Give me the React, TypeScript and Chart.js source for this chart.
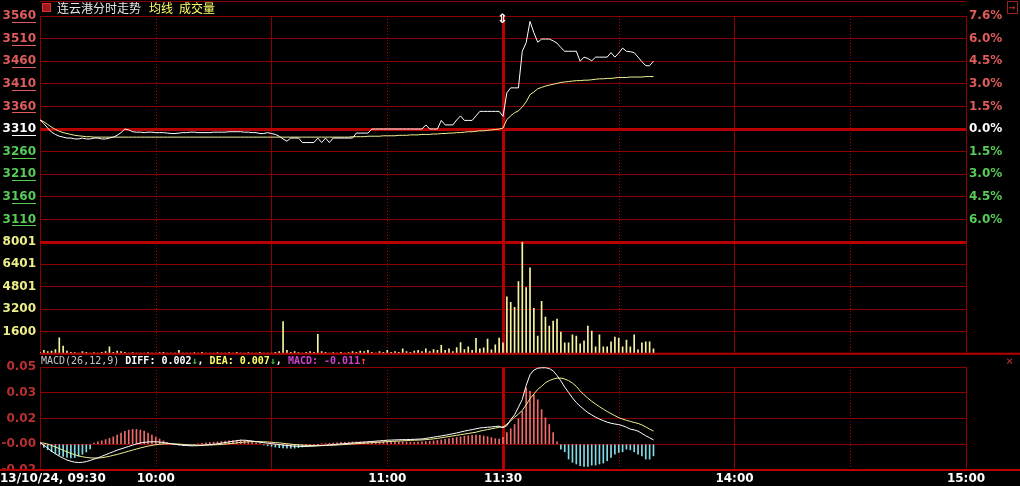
import { useEffect, useRef } from 'react';
import { Chart, registerables } from 'chart.js';

Chart.register(...registerables);

// ---------------- data ----------------
const titleName = '连云港分时走势';
const titleAvg = '均线';
const titleVol = '成交量';
const prevClose = 3310;
const priceMin = 3060;
const priceMax = 3560;
const priceTicks = [3560, 3510, 3460, 3410, 3360, 3310, 3260, 3210, 3160, 3110];
const volMax = 8001;
const volTickLabels = ['8001', '6401', '4801', '3200', '1600'];
const macdMax = 0.05;
const macdMin = -0.05 / 3;
const macdTickLabels = ['0.05', '0.03', '0.02', '-0.00', '-0.02'];
const sessionMinutes = 240;
const solidGridMinutes = [0, 60, 120, 180, 240];
const dottedGridMinutes = [30, 90, 150, 210];
const timeTickMinutes = [0, 30, 90, 120, 180, 240];
const timeTickLabels = ['13/10/24, 09:30', '10:00', '11:00', '11:30', '14:00', '15:00'];

// minute 0..120 (morning) and 121..159 (afternoon)
const priceAM = [
  3330, 3322, 3312, 3303, 3298, 3294, 3292, 3290, 3290, 3288,
  3288, 3290, 3288, 3288, 3290, 3290, 3288, 3288, 3290, 3292,
  3296, 3302, 3310, 3308, 3304, 3303, 3303, 3302, 3303, 3303,
  3302, 3302, 3302, 3301, 3300, 3300, 3301, 3302, 3302, 3303,
  3303, 3302, 3302, 3302, 3302, 3303, 3303, 3303, 3303, 3304,
  3304, 3304, 3304, 3303, 3303, 3302, 3302, 3300, 3300, 3302,
  3300, 3298, 3294, 3288, 3283, 3290, 3290, 3290, 3280, 3280,
  3280, 3280, 3290, 3280, 3290, 3280, 3290, 3290, 3290, 3290,
  3290, 3290, 3301, 3301, 3301, 3301, 3310, 3310, 3310, 3310,
  3310, 3310, 3310, 3310, 3310, 3310, 3310, 3310, 3310, 3310,
  3319, 3310, 3310, 3310, 3329, 3319, 3319, 3319, 3330, 3339,
  3329, 3329, 3329, 3339, 3349, 3349, 3349, 3349, 3349, 3349,
  3338,
];
const pricePM = [
  3390, 3401, 3401, 3401, 3482, 3501, 3548, 3523, 3502, 3509,
  3509, 3509, 3505, 3500, 3490, 3482, 3482, 3482, 3482, 3460,
  3469, 3466, 3461, 3469, 3469, 3469, 3469, 3479, 3469, 3478,
  3489, 3482, 3481, 3479, 3469, 3459, 3450, 3450, 3460,
];
const avgAM = [
  3330, 3326, 3320, 3314, 3309, 3305, 3302, 3300, 3298, 3296,
  3295, 3294, 3293, 3293, 3292, 3292, 3292, 3292, 3292, 3292,
  3292, 3292, 3292, 3292, 3292, 3292, 3292, 3292, 3292, 3292,
  3292, 3292, 3292, 3292, 3292, 3292, 3292, 3292, 3292, 3292,
  3292, 3292, 3292, 3292, 3292, 3292, 3292, 3292, 3292, 3292,
  3292, 3292, 3292, 3292, 3292, 3292, 3292, 3292, 3292, 3292,
  3292, 3292, 3292, 3292, 3292, 3292, 3292, 3292, 3292, 3292,
  3292, 3292, 3292, 3292, 3292, 3292, 3292, 3292, 3292, 3292,
  3292, 3293, 3293, 3293, 3293, 3294, 3294, 3294, 3294, 3295,
  3295, 3295, 3295, 3296, 3296, 3296, 3297, 3297, 3297, 3298,
  3298, 3298, 3299, 3299, 3300, 3300, 3301, 3301, 3302, 3302,
  3303, 3304, 3304, 3305, 3306, 3306, 3307, 3308, 3309, 3310,
  3312,
];
const avgPM = [
  3331, 3339, 3346, 3350, 3359, 3370, 3386, 3392, 3399, 3402,
  3405, 3407, 3409, 3411, 3413, 3414, 3415, 3416, 3417, 3417,
  3418, 3418, 3419, 3420, 3421, 3421, 3422, 3422, 3423, 3424,
  3424, 3424, 3425, 3425, 3425, 3425, 3426, 3426, 3426,
];
const volAM = [
  100, 250, 150, 200, 300, 1150, 550, 200, 100, 80,
  60, 150, 100, 60, 80, 60, 100, 150, 500, 100,
  200, 150, 100, 60, 80, 60, 50, 60, 80, 50,
  60, 80, 100, 60, 50, 60, 250, 60, 50, 60,
  80, 60, 100, 60, 50, 60, 80, 50, 60, 80,
  60, 100, 50, 60, 80, 60, 50, 100, 60, 50,
  60, 100, 150, 2300, 250, 100, 150, 80, 60, 100,
  150, 100, 1400, 150, 100, 60, 80, 60, 100, 60,
  80, 150, 100, 200, 150, 250, 100, 60, 150, 100,
  250, 100, 150, 100, 350, 150, 100, 200, 250, 150,
  350, 150, 300, 250, 600, 250, 350, 150, 450, 800,
  300, 500, 250, 1100, 350, 425, 1060, 280, 640, 1130,
  780,
];
const volPM = [
  4085, 3680, 3330, 5170, 7980, 4740, 6160, 3260, 1270, 3750,
  2620, 1980, 2340, 2480, 1560, 780, 780, 1350, 1270, 710,
  920, 1980, 1630, 500, 1350, 500, 500, 850, 1200, 1130,
  500, 990, 500, 1350, 280, 780, 850, 850, 350,
];
const diffAM = [
  0.001, -0.0005, -0.0025, -0.0045, -0.0062, -0.0077, -0.009, -0.0102, -0.011, -0.0116,
  -0.0118, -0.0117, -0.0112, -0.0105, -0.0096, -0.0088, -0.0078, -0.0068, -0.0058, -0.0048,
  -0.0038, -0.003, -0.0022, -0.0014, -0.0006, 0.0002, 0.0008, 0.0012, 0.0015, 0.0016,
  0.0016, 0.0014, 0.0011, 0.0007, 0.0003, 0, -0.0003, -0.0006, -0.0008, -0.001,
  -0.001, -0.0009, -0.0007, -0.0004, -0.0002, 0, 0.0003, 0.0007, 0.0011, 0.0015,
  0.0019, 0.0023, 0.0026, 0.0026, 0.0024, 0.0021, 0.0017, 0.0013, 0.001, 0.0007,
  0.0004, 0.0001, -0.0002, -0.0005, -0.0008, -0.001, -0.0012, -0.0013, -0.0014, -0.0014,
  -0.0013, -0.0012, -0.001, -0.0008, -0.0006, -0.0004, -0.0002, 0, 0.0002, 0.0004,
  0.0006, 0.0008, 0.001, 0.0012, 0.0014, 0.0016, 0.0018, 0.002, 0.0022, 0.0024,
  0.0026, 0.0027, 0.0028, 0.0029, 0.003, 0.003, 0.0031, 0.0032, 0.0033, 0.0034,
  0.0038, 0.0042, 0.0046, 0.005, 0.0054, 0.0058, 0.0063, 0.0068, 0.0073, 0.0079,
  0.0085, 0.009, 0.0095, 0.01, 0.0105, 0.0108, 0.011, 0.0112, 0.0115, 0.0117,
  0.0107,
];
const diffPM = [
  0.012, 0.016, 0.019, 0.024, 0.029, 0.038, 0.045, 0.048, 0.0492, 0.0495,
  0.0495, 0.049, 0.0475, 0.0445, 0.041, 0.037, 0.0335, 0.03, 0.027, 0.0246,
  0.0225, 0.0205, 0.019, 0.0175, 0.0163, 0.0153, 0.0143, 0.0136, 0.0131, 0.0127,
  0.012, 0.011, 0.0098, 0.0093, 0.0085, 0.007, 0.0055, 0.0042, 0.0028,
];
const deaAM = [
  0.001, 0.0007, 0.0001, -0.0008, -0.0018, -0.0028, -0.0039, -0.0049, -0.0059, -0.0068,
  -0.0075, -0.0081, -0.0085, -0.0088, -0.0089, -0.0089, -0.0087, -0.0083, -0.0078, -0.0072,
  -0.0066, -0.0059, -0.0052, -0.0045, -0.0038, -0.0031, -0.0024, -0.0018, -0.0012, -0.0007,
  -0.0003, 0, 0.0002, 0.0003, 0.0003, 0.0002, 0.0001, -0.0001, -0.0003, -0.0004,
  -0.0005, -0.0006, -0.0006, -0.0006, -0.0005, -0.0004, -0.0003, -0.0001, 0.0001, 0.0003,
  0.0006, 0.0009, 0.0012, 0.0014, 0.0016, 0.0017, 0.0017, 0.0017, 0.0016, 0.0015,
  0.0013, 0.0011, 0.0009, 0.0006, 0.0003, 0.0001, -0.0002, -0.0004, -0.0006, -0.0007,
  -0.0008, -0.0009, -0.0009, -0.0009, -0.0008, -0.0007, -0.0006, -0.0005, -0.0003, -0.0002,
  0, 0.0002, 0.0003, 0.0005, 0.0007, 0.0008, 0.001, 0.0012, 0.0013, 0.0015,
  0.0017, 0.0018, 0.002, 0.0021, 0.0022, 0.0024, 0.0025, 0.0026, 0.0027, 0.0028,
  0.003, 0.0032, 0.0035, 0.0038, 0.0042, 0.0046, 0.005, 0.0054, 0.0058, 0.0062,
  0.0066, 0.007, 0.0074, 0.0078, 0.0085, 0.009, 0.0095, 0.01, 0.0105, 0.011,
  0.0112,
];
const deaPM = [
  0.013, 0.0152, 0.0175, 0.0195, 0.022, 0.0255, 0.0295, 0.0325, 0.0355, 0.0375,
  0.0398, 0.0412, 0.0422, 0.0428, 0.0428, 0.0422, 0.0412, 0.0396, 0.0375, 0.0345,
  0.032, 0.0298, 0.0278, 0.026, 0.0243, 0.0227, 0.0212, 0.0198, 0.0185, 0.0172,
  0.0163, 0.0155, 0.0148, 0.0141, 0.0135, 0.0125, 0.0112, 0.0098, 0.0085,
];
const histAM = [
  -0.0005, -0.002, -0.0035, -0.0048, -0.006, -0.007, -0.0078, -0.0085, -0.0088, -0.0086,
  -0.0078, -0.0065, -0.005, -0.003, 0.0008, 0.0015, 0.0022, 0.003, 0.0038, 0.0048,
  0.006, 0.0072, 0.0084, 0.0092, 0.0096, 0.0096, 0.0092, 0.0085, 0.0072, 0.006,
  0.0046, 0.0034, 0.0022, 0.0012, 0.0005, -0.0003, -0.0006, -0.0008, -0.0008, -0.0006,
  -0.0003, 0.0003, 0.0006, 0.0009, 0.0012, 0.0014, 0.0016, 0.0018, 0.002, 0.0022,
  0.0024, 0.0026, 0.0028, 0.0026, 0.0022, 0.0016, 0.001, 0.0004, -0.0004, -0.001,
  -0.0014, -0.0018, -0.0022, -0.0024, -0.0025, -0.0026, -0.0025, -0.0022, -0.0018, -0.0014,
  -0.001, -0.0006, -0.0002, 0.0002, 0.0004, 0.0006, 0.0008, 0.001, 0.0012, 0.0013,
  0.0014, 0.0015, 0.0016, 0.0016, 0.0016, 0.0016, 0.0016, 0.0016, 0.0017, 0.0018,
  0.0018, 0.0018, 0.0018, 0.0017, 0.0016, 0.0015, 0.0014, 0.0013, 0.0014, 0.0016,
  0.0018, 0.002, 0.0022, 0.0025, 0.0028, 0.0032, 0.0036, 0.004, 0.0044, 0.0048,
  0.0052, 0.0055, 0.0058, 0.006, 0.0058, 0.0053, 0.0049, 0.0043, 0.0036, 0.0033,
  0.0045,
];
const histPM = [
  0.0075, 0.01, 0.0128, 0.0165, 0.0214, 0.0363, 0.0342, 0.032, 0.0288, 0.0224,
  0.0171, 0.0128, 0.0075, 0.0015, -0.0032, -0.0049, -0.0096, -0.0117, -0.0128, -0.0139,
  -0.0143, -0.0143, -0.0135, -0.0135, -0.0128, -0.0122, -0.0107, -0.0085, -0.0064, -0.0053,
  -0.0049, -0.0032, -0.0036, -0.0049, -0.0064, -0.0075, -0.0096, -0.0096, -0.0075,
];

// ---------------- style ----------------
const GRID = '#8a0000';
const THICK = '#b80000';
const UP = '#e05c5c';
const DOWN = '#58cc58';
const AXIS_FONT = { family: 'DejaVu Sans', size: 12, weight: 'bold' as const };
const priceLabelColor = (v: number) => (v > prevClose ? UP : v === prevClose ? '#ffffff' : DOWN);

const toXY = (arr: number[]) => arr.map((y, i) => ({ x: i, y }));

function xScale(): any {
  return {
    x: {
      type: 'linear',
      axis: 'x',
      min: 0,
      max: sessionMinutes,
      offset: false,
      position: 'bottom',
      ticks: { display: false },
      afterFit: (s: any) => { s.height = 0; },
      afterBuildTicks: (s: any) => { s.ticks = solidGridMinutes.map((v) => ({ value: v })); },
      grid: {
        offset: false,
        drawTicks: false,
        color: (c: any) => (c.tick && c.tick.value === 120 ? THICK : GRID),
        lineWidth: (c: any) => (c.tick && c.tick.value === 120 ? 3 : 1),
      },
      border: { display: false },
    },
  };
}

// dotted half-hour lines, positioned by the x scale
const dottedGridPlugin = {
  id: 'dottedGrid',
  beforeDatasetsDraw(chart: any) {
    const { ctx, chartArea, scales } = chart;
    ctx.save();
    ctx.strokeStyle = '#b00000';
    ctx.lineWidth = 1;
    ctx.setLineDash([1, 2]);
    dottedGridMinutes.forEach((m) => {
      const px = Math.round(scales.x.getPixelForValue(m)) + 0.5;
      ctx.beginPath();
      ctx.moveTo(px, chartArea.top);
      ctx.lineTo(px, chartArea.bottom);
      ctx.stroke();
    });
    ctx.restore();
  },
};

const topLinePlugin = {
  id: 'topLine',
  beforeDraw(chart: any) {
    const { ctx, chartArea } = chart;
    ctx.save();
    ctx.strokeStyle = GRID;
    ctx.lineWidth = 1;
    ctx.beginPath();
    ctx.moveTo(chartArea.left, 1.5);
    ctx.lineTo(chartArea.right, 1.5);
    ctx.stroke();
    ctx.restore();
  },
};

// underline marks beneath the price labels, as the terminal draws them
const priceUnderlinePlugin = {
  id: 'priceUnderline',
  afterDraw(chart: any) {
    const { ctx, scales } = chart;
    ctx.save();
    ctx.lineWidth = 1;
    priceTicks.forEach((v) => {
      const py = Math.round(scales.y.getPixelForValue(v)) + 6.5;
      ctx.strokeStyle = priceLabelColor(v);
      ctx.beginPath();
      ctx.moveTo(12, py);
      ctx.lineTo(36, py);
      ctx.stroke();
    });
    ctx.restore();
  },
};

const timeLabelPlugin = {
  id: 'timeLabels',
  afterDraw(chart: any) {
    const { ctx, chartArea, scales } = chart;
    ctx.save();
    ctx.fillStyle = '#000';
    ctx.fillRect(0, chartArea.bottom, chart.width, chart.height - chartArea.bottom);
    ctx.strokeStyle = THICK;
    ctx.lineWidth = 2;
    ctx.beginPath();
    ctx.moveTo(0, chartArea.bottom);
    ctx.lineTo(chart.width, chartArea.bottom);
    ctx.stroke();
    ctx.font = 'bold 12px "DejaVu Sans"';
    ctx.fillStyle = '#ffffff';
    ctx.textBaseline = 'middle';
    const y = chartArea.bottom + 9;
    timeTickMinutes.forEach((m, k) => {
      const px = scales.x.getPixelForValue(m);
      if (k === 0) {
        ctx.textAlign = 'left';
        ctx.fillText(timeTickLabels[k], 0, y);
      } else {
        ctx.textAlign = 'center';
        ctx.fillText(timeTickLabels[k], px, y);
      }
    });
    ctx.restore();
  },
};

const volBottomPlugin = {
  id: 'volBottom',
  afterDraw(chart: any) {
    const { ctx, chartArea } = chart;
    ctx.save();
    ctx.strokeStyle = THICK;
    ctx.lineWidth = 2;
    ctx.beginPath();
    ctx.moveTo(chartArea.left, chartArea.bottom);
    ctx.lineTo(chart.width, chartArea.bottom);
    ctx.stroke();
    ctx.restore();
  },
};

export default function App() {
  const priceRef = useRef<HTMLCanvasElement>(null);
  const volRef = useRef<HTMLCanvasElement>(null);
  const macdRef = useRef<HTMLCanvasElement>(null);

  useEffect(() => {
    const price = [...priceAM, ...pricePM];
    const avg = [...avgAM, ...avgPM];
    const vol = [...volAM, ...volPM];
    const diff = [...diffAM, ...diffPM];
    const dea = [...deaAM, ...deaPM];
    const hist = [...histAM, ...histPM];
    const common = {
      animation: false as const,
      responsive: false,
      maintainAspectRatio: false,
      events: [] as any[],
    };
    const noPlugins = { legend: { display: false }, tooltip: { enabled: false } };

    const priceChart = new Chart(priceRef.current!, {
      type: 'line',
      data: {
        datasets: [
          { data: toXY(price), borderColor: '#ffffff', borderWidth: 1, pointRadius: 0, xAxisID: 'x', yAxisID: 'y', order: 0 },
          { data: toXY(avg), borderColor: '#f0f090', borderWidth: 1, pointRadius: 0, xAxisID: 'x', yAxisID: 'y', order: 1 },
        ],
      },
      options: {
        ...common,
        layout: { padding: { top: 16, bottom: 18, left: 0, right: 0 } },
        plugins: noPlugins,
        scales: {
          ...xScale(),
          y: {
            position: 'left',
            min: priceMin,
            max: priceMax,
            afterBuildTicks: (s: any) => { s.ticks = [...priceTicks, priceMin].map((v) => ({ value: v })); },
            afterFit: (s: any) => { s.width = 40; },
            ticks: {
              font: AXIS_FONT,
              padding: 4,
              color: (c: any) => priceLabelColor(c.tick.value),
              callback: (v: any) => (v === priceMin ? '' : String(v)),
            },
            grid: {
              drawTicks: false,
              color: (c: any) => (c.tick && (c.tick.value === prevClose || c.tick.value === priceMin) ? THICK : GRID),
              lineWidth: (c: any) => (c.tick && (c.tick.value === prevClose || c.tick.value === priceMin) ? 3 : 1),
            },
            border: { display: false },
          },
          y2: {
            position: 'right',
            min: priceMin,
            max: priceMax,
            afterBuildTicks: (s: any) => { s.ticks = priceTicks.map((v) => ({ value: v })); },
            afterFit: (s: any) => { s.width = 54; },
            ticks: {
              font: AXIS_FONT,
              padding: 3,
              color: (c: any) => priceLabelColor(c.tick.value),
              callback: (v: any) => Math.abs(((v - prevClose) / prevClose) * 100).toFixed(1) + '%',
            },
            grid: { display: false, drawTicks: false },
            border: { display: true, color: GRID, width: 1 },
          },
        },
      } as any,
      plugins: [dottedGridPlugin, topLinePlugin, priceUnderlinePlugin],
    });

    const volTickValues = [0, 1, 2, 3, 4, 5].map((k) => (volMax * (5 - k)) / 5);
    const volChart = new Chart(volRef.current!, {
      type: 'bar',
      data: {
        datasets: [
          { data: toXY(vol), backgroundColor: '#f6f6a0', borderWidth: 0, barThickness: 1, xAxisID: 'x', yAxisID: 'y' },
        ],
      },
      options: {
        ...common,
        layout: { padding: { top: 12, bottom: 10, left: 0, right: 54 } },
        plugins: noPlugins,
        scales: {
          ...xScale(),
          y: {
            position: 'left',
            min: 0,
            max: volMax,
            afterBuildTicks: (s: any) => { s.ticks = volTickValues.map((v) => ({ value: v })); },
            afterFit: (s: any) => { s.width = 40; },
            ticks: {
              font: AXIS_FONT,
              padding: 4,
              color: '#eeee88',
              callback: (v: any) => {
                const k = volTickValues.indexOf(v);
                return k >= 0 && k < volTickLabels.length ? volTickLabels[k] : '';
              },
            },
            grid: {
              drawTicks: false,
              color: (c: any) => (c.tick && c.tick.value === volMax ? THICK : GRID),
              lineWidth: (c: any) => (c.tick && c.tick.value === volMax ? 3 : 1),
            },
            border: { display: false },
          },
        },
      } as any,
      plugins: [dottedGridPlugin, volBottomPlugin],
    });

    const macdTickValues = [0, 1, 2, 3, 4].map((k) => macdMax - (k * (macdMax - macdMin)) / 4);
    const macdChart = new Chart(macdRef.current!, {
      type: 'bar',
      data: {
        datasets: [
          { type: 'line', data: toXY(diff), borderColor: '#ffffff', borderWidth: 1, pointRadius: 0, xAxisID: 'x', yAxisID: 'y', order: 0 } as any,
          { type: 'line', data: toXY(dea), borderColor: '#f0f090', borderWidth: 1, pointRadius: 0, xAxisID: 'x', yAxisID: 'y', order: 1 } as any,
          {
            type: 'bar',
            data: toXY(hist),
            backgroundColor: (c: any) => (c.raw && c.raw.y >= 0 ? '#f06a6a' : '#80dde6'),
            borderWidth: 0,
            barThickness: 1,
            xAxisID: 'x',
            yAxisID: 'y',
            order: 2,
          },
        ],
      },
      options: {
        ...common,
        layout: { padding: { top: 12, bottom: 16, left: 0, right: 54 } },
        plugins: noPlugins,
        scales: {
          ...xScale(),
          y: {
            position: 'left',
            min: macdMin,
            max: macdMax,
            afterBuildTicks: (s: any) => { s.ticks = macdTickValues.map((v) => ({ value: v })); },
            afterFit: (s: any) => { s.width = 40; },
            ticks: {
              font: AXIS_FONT,
              padding: 4,
              color: '#b83030',
              callback: (v: any) => {
                const k = macdTickValues.indexOf(v);
                return k >= 0 ? macdTickLabels[k] : '';
              },
            },
            grid: { drawTicks: false, color: GRID, lineWidth: 1 },
            border: { display: false },
          },
        },
      } as any,
      plugins: [dottedGridPlugin, timeLabelPlugin],
    });

    return () => {
      priceChart.destroy();
      volChart.destroy();
      macdChart.destroy();
    };
  }, []);

  const abs = (left: number, top: number, extra: any = {}) => ({
    position: 'absolute' as const,
    left,
    top,
    whiteSpace: 'nowrap' as const,
    ...extra,
  });
  const cjk = { fontFamily: '"Noto Sans CJK SC", sans-serif', fontSize: 12, lineHeight: '16px' };
  const mono = { fontFamily: '"DejaVu Sans Mono", monospace', fontSize: 10, lineHeight: '12px' };

  return (
    <div style={{ position: 'absolute', left: 0, top: 0, width: 1020, height: 486, background: '#000', overflow: 'hidden' }}>
      <canvas ref={priceRef} width={1020} height={260} style={{ position: 'absolute', left: 0, top: 0 }} />
      <canvas ref={volRef} width={1020} height={135} style={{ position: 'absolute', left: 0, top: 230 }} />
      <canvas ref={macdRef} width={1020} height={131} style={{ position: 'absolute', left: 0, top: 355 }} />
      <div style={abs(42, 3, { width: 7, height: 7, border: '1px solid #e03030', background: '#a01818' })} />
      <span style={abs(57, 0, { ...cjk, color: '#e8e8e8' })}>{titleName}</span>
      <span style={abs(149, 0, { ...cjk, color: '#ffff66' })}>{titleAvg}</span>
      <span style={abs(179, 0, { ...cjk, color: '#ffff66' })}>{titleVol}</span>
      <span style={abs(497, 12, { fontFamily: '"DejaVu Sans", sans-serif', fontSize: 13, lineHeight: '14px', fontWeight: 'bold', color: '#ffffff' })}>⇕</span>
      <div style={abs(41, 355, { ...mono })}>
        <span style={{ color: '#c8c8c8' }}>MACD(26,12,9) </span>
        <span style={{ color: '#ffffff', fontWeight: 'bold' }}>DIFF: 0.002</span>
        <span style={{ color: '#40d040', fontWeight: 'bold' }}>↓</span>
        <span style={{ color: '#ffffff', fontWeight: 'bold' }}>, </span>
        <span style={{ color: '#ffff66', fontWeight: 'bold' }}>DEA: 0.007</span>
        <span style={{ color: '#40d040', fontWeight: 'bold' }}>↓</span>
        <span style={{ color: '#ffffff', fontWeight: 'bold' }}>, </span>
        <span style={{ color: '#d040d0', fontWeight: 'bold' }}>MACD: -0.011</span>
        <span style={{ color: '#ff4040', fontWeight: 'bold' }}>↑</span>
      </div>
      <span style={abs(1006, 355, { ...mono, fontSize: 12, color: '#c03030' })}>×</span>
      <span style={abs(1007, 1, { ...mono, fontSize: 11, color: '#c03030', border: '1px solid #a02020', lineHeight: '11px', padding: '0 1px' })}>→</span>
    </div>
  );
}
